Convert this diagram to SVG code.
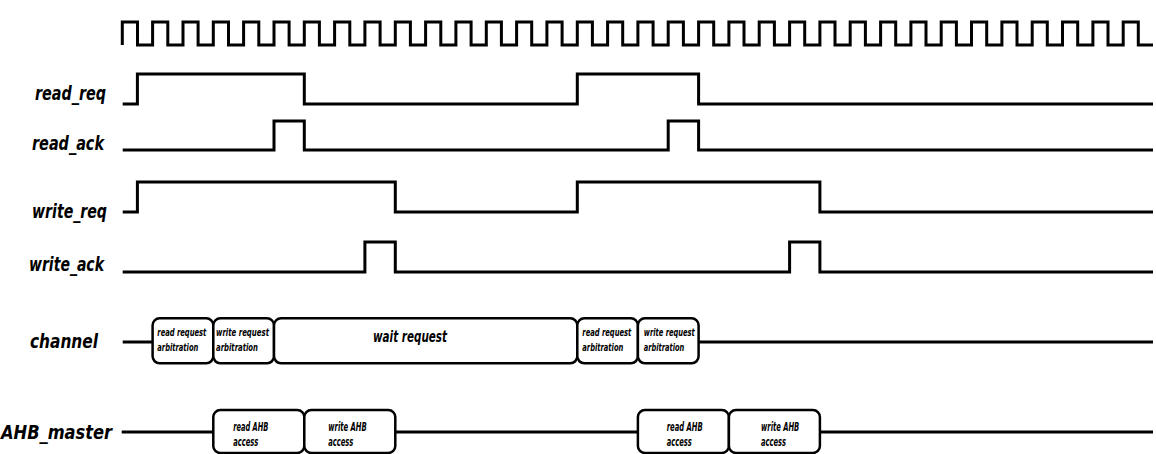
<svg xmlns="http://www.w3.org/2000/svg" width="1156" height="454" viewBox="0 0 1156 454">
<style>
.w{fill:none;stroke:#000;stroke-width:3;stroke-linejoin:miter;stroke-linecap:butt}
.box{fill:#fff;stroke:#000;stroke-width:2.5}
.lbl{font-family:"DejaVu Sans Condensed","DejaVu Sans",sans-serif;font-weight:bold;font-style:italic;font-size:20px;fill:#000}
.sm{font-family:"DejaVu Sans Condensed","DejaVu Sans",sans-serif;font-weight:bold;font-style:italic;font-size:11px;fill:#000}
.ah{font-family:"DejaVu Sans Condensed","DejaVu Sans",sans-serif;font-weight:bold;font-style:italic;font-size:12.5px;fill:#000}
.md{font-family:"DejaVu Sans Condensed","DejaVu Sans",sans-serif;font-weight:bold;font-style:italic;font-size:15px;fill:#000}
</style>
<rect width="1156" height="454" fill="#fff"/>
<g id="clock">
<path class="w" d="M122.3,45 V22 H137.5 V45 H152.6 V22 H167.8 V45 H183 V22 H198.1 V45 H213.3 V22 H228.5 V45 H243.6 V22 H258.8 V45 H274 V22 H289.1 V45 H304.3 V22 H319.4 V45 H334.6 V22 H349.8 V45 H364.9 V22 H380.1 V45 H395.3 V22 H410.4 V45 H425.6 V22 H440.8 V45 H455.9 V22 H471.1 V45 H486.3 V22 H501.4 V45 H516.6 V22 H531.7 V45 H546.9 V22 H562.1 V45 H577.3 V22 H592.4 V45 H607.6 V22 H622.7 V45 H637.9 V22 H653.1 V45 H668.2 V22 H683.4 V45 H698.6 V22 H713.7 V45 H728.9 V22 H744 V45 H759.2 V22 H774.4 V45 H789.6 V22 H804.7 V45 H819.9 V22 H835 V45 H850.2 V22 H865.4 V45 H880.6 V22 H895.7 V45 H910.9 V22 H926 V45 H941.2 V22 H956.4 V45 H971.5 V22 H986.7 V45 H1001.9 V22 H1017 V45 H1032.2 V22 H1047.3 V45 H1062.5 V22 H1077.7 V45 H1092.9 V22 H1108 V45 H1123.2 V22 H1138.3 V45 H1153"/>
</g>
<g id="read_req">
<text class="lbl" x="106" y="100" text-anchor="end" textLength="71" lengthAdjust="spacingAndGlyphs">read_req</text>
<path class="w" d="M122.7,104 H137.4 V74 H304.3 V104 H577.3 V74 H698.6 V104 H1153"/>
</g>
<g id="read_ack">
<text class="lbl" x="104" y="150" text-anchor="end" textLength="72" lengthAdjust="spacingAndGlyphs">read_ack</text>
<path class="w" d="M122.7,150 H274 V121 H304.3 V150 H668.2 V121 H698.6 V150 H1153"/>
</g>
<g id="write_req">
<text class="lbl" x="107" y="218" text-anchor="end" textLength="75" lengthAdjust="spacingAndGlyphs">write_req</text>
<path class="w" d="M122.7,212 H137.4 V182 H395.3 V212 H577.3 V182 H819.9 V212 H1153"/>
</g>
<g id="write_ack">
<text class="lbl" x="104" y="271" text-anchor="end" textLength="75" lengthAdjust="spacingAndGlyphs">write_ack</text>
<path class="w" d="M122.7,272 H364.9 V242 H395.3 V272 H789.6 V242 H819.9 V272 H1153"/>
</g>
<g id="channel">
<text class="lbl" x="98" y="348" text-anchor="end" textLength="68" lengthAdjust="spacingAndGlyphs">channel</text>
<path class="w" d="M122.7,342 H152.6 M698.6,342 H1153"/>
<rect class="box" x="152.6" y="318.3" width="60.7" height="45" rx="7"/>
<rect class="box" x="213.3" y="318.3" width="60.7" height="45" rx="7"/>
<rect class="box" x="274" y="318.3" width="303.3" height="45" rx="7"/>
<rect class="box" x="577.3" y="318.3" width="60.6" height="45" rx="7"/>
<rect class="box" x="637.9" y="318.3" width="60.7" height="45" rx="7"/>
<text class="sm" x="157.3" y="336" textLength="49" lengthAdjust="spacingAndGlyphs">read request</text>
<text class="sm" x="157.3" y="351" textLength="41" lengthAdjust="spacingAndGlyphs">arbitration</text>
<text class="sm" x="216" y="336" textLength="53" lengthAdjust="spacingAndGlyphs">write request</text>
<text class="sm" x="216" y="351" textLength="42" lengthAdjust="spacingAndGlyphs">arbitration</text>
<text class="md" x="373" y="342" textLength="74" lengthAdjust="spacingAndGlyphs">wait request</text>
<text class="sm" x="582.3" y="336" textLength="49" lengthAdjust="spacingAndGlyphs">read request</text>
<text class="sm" x="582.3" y="351" textLength="41" lengthAdjust="spacingAndGlyphs">arbitration</text>
<text class="sm" x="643.8" y="336" textLength="51" lengthAdjust="spacingAndGlyphs">write request</text>
<text class="sm" x="643.8" y="351" textLength="40.5" lengthAdjust="spacingAndGlyphs">arbitration</text>
</g>
<g id="AHB_master">
<text class="lbl" x="112" y="439" text-anchor="end" textLength="111" lengthAdjust="spacingAndGlyphs">AHB_master</text>
<path class="w" d="M121.7,432 H213.3 M395.3,432 H637.9 M819.9,432 H1153"/>
<rect class="box" x="213.3" y="410" width="91" height="43" rx="7"/>
<rect class="box" x="304.3" y="410" width="91" height="43" rx="7"/>
<rect class="box" x="637.9" y="410" width="91" height="43" rx="7"/>
<rect class="box" x="728.9" y="410" width="91" height="43" rx="7"/>
<text class="ah" x="233.3" y="431" textLength="35" lengthAdjust="spacingAndGlyphs">read AHB</text>
<text class="ah" x="233.3" y="446" textLength="25" lengthAdjust="spacingAndGlyphs">access</text>
<text class="ah" x="328.3" y="431" textLength="38.4" lengthAdjust="spacingAndGlyphs">write AHB</text>
<text class="ah" x="328.3" y="446" textLength="25" lengthAdjust="spacingAndGlyphs">access</text>
<text class="ah" x="666.7" y="431" textLength="36" lengthAdjust="spacingAndGlyphs">read AHB</text>
<text class="ah" x="666.7" y="446" textLength="25" lengthAdjust="spacingAndGlyphs">access</text>
<text class="ah" x="761" y="431" textLength="38.3" lengthAdjust="spacingAndGlyphs">write AHB</text>
<text class="ah" x="761" y="446" textLength="25" lengthAdjust="spacingAndGlyphs">access</text>
</g>
</svg>
